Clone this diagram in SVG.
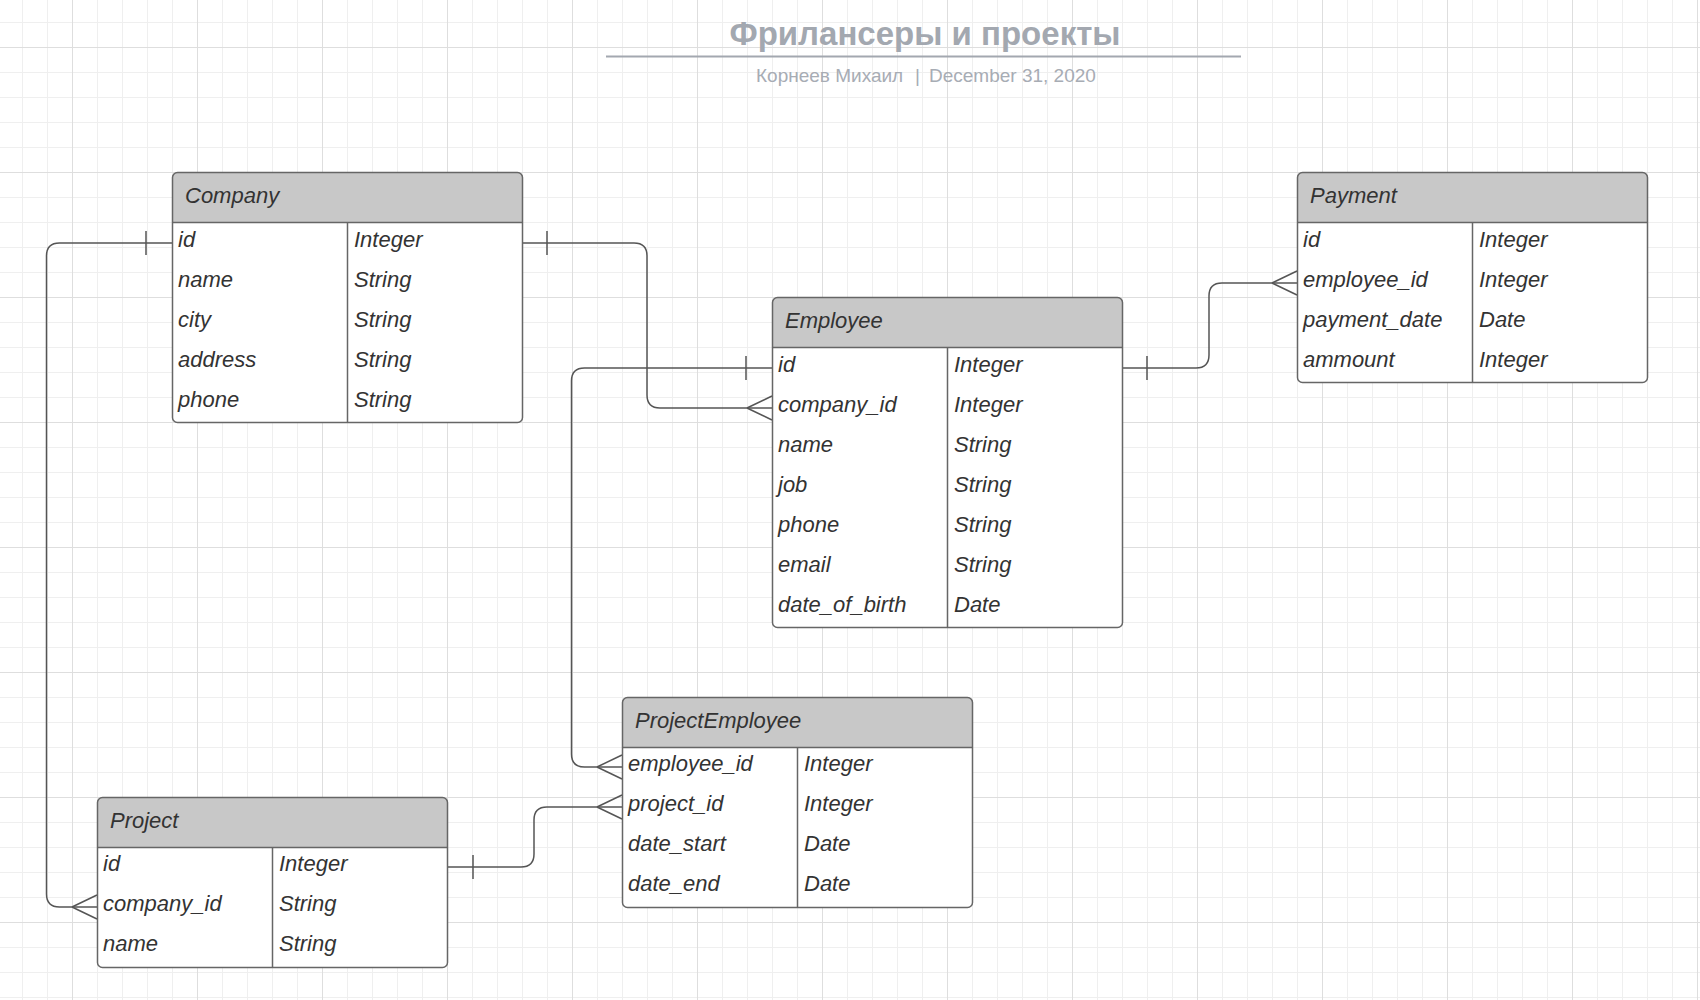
<svg xmlns="http://www.w3.org/2000/svg" width="1700" height="1000" viewBox="0 0 1700 1000">
<defs>
<pattern id="grid" x="72" y="47" width="125" height="125" patternUnits="userSpaceOnUse">
<rect x="0" y="0" width="125" height="125" fill="#ffffff"/>
<g fill="#efefef">
<rect x="25" y="0" width="1" height="125"/><rect x="50" y="0" width="1" height="125"/><rect x="75" y="0" width="1" height="125"/><rect x="100" y="0" width="1" height="125"/>
<rect x="0" y="25" width="125" height="1"/><rect x="0" y="50" width="125" height="1"/><rect x="0" y="75" width="125" height="1"/><rect x="0" y="100" width="125" height="1"/>
</g>
<g fill="#dedede">
<rect x="0" y="0" width="1" height="125"/><rect x="0" y="0" width="125" height="1"/>
</g>
</pattern>
<style>
.hdr{fill:#c8c8c8;}
.frame{fill:none;stroke:#666666;stroke-width:1.5;}
.sep{stroke:#666666;stroke-width:1.5;}
.t{font-family:"Liberation Sans",Arial,sans-serif;font-style:italic;font-size:22px;fill:#333333;}
.conn{fill:none;stroke:#555555;stroke-width:1.5;}
.title{font-family:"Liberation Sans",Arial,sans-serif;font-weight:bold;font-size:33px;fill:#a3a8b0;}
.sub{font-family:"Liberation Sans",Arial,sans-serif;font-size:19px;fill:#a7acb4;}
</style>
</defs>
<rect x="0" y="0" width="1700" height="1000" fill="url(#grid)"/>

<g id="title">
<text class="title" x="925" y="45" text-anchor="middle">Фрилансеры и проекты</text>
<line x1="606" y1="56.5" x2="1241" y2="56.5" stroke="#a3a8b0" stroke-width="2"/>
<text class="sub" x="756" y="82">Корнеев Михаил</text>
<text class="sub" x="915" y="82">|</text>
<text class="sub" x="929" y="82">December 31, 2020</text>
</g>

<g id="connectors">
<path class="conn" d="M172,243 H59.5 Q46.5,243 46.5,256 V894 Q46.5,907 59.5,907 H97"/>
<path class="conn" d="M146,231 V255 M72,907 L97,895 M72,907 L97,919"/>
<path class="conn" d="M522,243 H634 Q647,243 647,256 V395 Q647,408 660,408 H772"/>
<path class="conn" d="M547,231 V255 M747,408 L772,396 M747,408 L772,420"/>
<path class="conn" d="M772,368 H584.5 Q571.5,368 571.5,381 V754 Q571.5,767 584.5,767 H622"/>
<path class="conn" d="M746,356 V380 M597,767 L622,755 M597,767 L622,779"/>
<path class="conn" d="M1122,368 H1196 Q1209,368 1209,355 V296 Q1209,283 1222,283 H1297"/>
<path class="conn" d="M1147,356 V380 M1272,283 L1297,271 M1272,283 L1297,295"/>
<path class="conn" d="M447,867 H521 Q534,867 534,854 V820 Q534,807 547,807 H622"/>
<path class="conn" d="M473,855 V879 M597,807 L622,795 M597,807 L622,819"/>
</g>

<g id="Company">
<rect x="172.5" y="172.5" width="350" height="250" rx="5" fill="#ffffff"/>
<path class="hdr" d="M172.5,222.5 V177.5 Q172.5,172.5 177.5,172.5 H517.5 Q522.5,172.5 522.5,177.5 V222.5 Z"/>
<line class="sep" x1="172.5" y1="222.5" x2="522.5" y2="222.5"/>
<line class="sep" x1="347.5" y1="222.5" x2="347.5" y2="422.5"/>
<rect class="frame" x="172.5" y="172.5" width="350" height="250" rx="5"/>
<text class="t" x="185" y="203">Company</text>
<text class="t" x="178" y="247">id</text><text class="t" x="354" y="247">Integer</text>
<text class="t" x="178" y="287">name</text><text class="t" x="354" y="287">String</text>
<text class="t" x="178" y="327">city</text><text class="t" x="354" y="327">String</text>
<text class="t" x="178" y="367">address</text><text class="t" x="354" y="367">String</text>
<text class="t" x="178" y="407">phone</text><text class="t" x="354" y="407">String</text>
</g>

<g id="Payment">
<rect x="1297.5" y="172.5" width="350" height="210" rx="5" fill="#ffffff"/>
<path class="hdr" d="M1297.5,222.5 V177.5 Q1297.5,172.5 1302.5,172.5 H1642.5 Q1647.5,172.5 1647.5,177.5 V222.5 Z"/>
<line class="sep" x1="1297.5" y1="222.5" x2="1647.5" y2="222.5"/>
<line class="sep" x1="1472.5" y1="222.5" x2="1472.5" y2="382.5"/>
<rect class="frame" x="1297.5" y="172.5" width="350" height="210" rx="5"/>
<text class="t" x="1310" y="203">Payment</text>
<text class="t" x="1303" y="247">id</text><text class="t" x="1479" y="247">Integer</text>
<text class="t" x="1303" y="287">employee_id</text><text class="t" x="1479" y="287">Integer</text>
<text class="t" x="1303" y="327">payment_date</text><text class="t" x="1479" y="327">Date</text>
<text class="t" x="1303" y="367">ammount</text><text class="t" x="1479" y="367">Integer</text>
</g>

<g id="Employee">
<rect x="772.5" y="297.5" width="350" height="330" rx="5" fill="#ffffff"/>
<path class="hdr" d="M772.5,347.5 V302.5 Q772.5,297.5 777.5,297.5 H1117.5 Q1122.5,297.5 1122.5,302.5 V347.5 Z"/>
<line class="sep" x1="772.5" y1="347.5" x2="1122.5" y2="347.5"/>
<line class="sep" x1="947.5" y1="347.5" x2="947.5" y2="627.5"/>
<rect class="frame" x="772.5" y="297.5" width="350" height="330" rx="5"/>
<text class="t" x="785" y="328">Employee</text>
<text class="t" x="778" y="372">id</text><text class="t" x="954" y="372">Integer</text>
<text class="t" x="778" y="412">company_id</text><text class="t" x="954" y="412">Integer</text>
<text class="t" x="778" y="452">name</text><text class="t" x="954" y="452">String</text>
<text class="t" x="778" y="492">job</text><text class="t" x="954" y="492">String</text>
<text class="t" x="778" y="532">phone</text><text class="t" x="954" y="532">String</text>
<text class="t" x="778" y="572">email</text><text class="t" x="954" y="572">String</text>
<text class="t" x="778" y="612">date_of_birth</text><text class="t" x="954" y="612">Date</text>
</g>

<g id="ProjectEmployee">
<rect x="622.5" y="697.5" width="350" height="210" rx="5" fill="#ffffff"/>
<path class="hdr" d="M622.5,747.5 V702.5 Q622.5,697.5 627.5,697.5 H967.5 Q972.5,697.5 972.5,702.5 V747.5 Z"/>
<line class="sep" x1="622.5" y1="747.5" x2="972.5" y2="747.5"/>
<line class="sep" x1="797.5" y1="747.5" x2="797.5" y2="907.5"/>
<rect class="frame" x="622.5" y="697.5" width="350" height="210" rx="5"/>
<text class="t" x="635" y="728">ProjectEmployee</text>
<text class="t" x="628" y="771">employee_id</text><text class="t" x="804" y="771">Integer</text>
<text class="t" x="628" y="811">project_id</text><text class="t" x="804" y="811">Integer</text>
<text class="t" x="628" y="851">date_start</text><text class="t" x="804" y="851">Date</text>
<text class="t" x="628" y="891">date_end</text><text class="t" x="804" y="891">Date</text>
</g>

<g id="Project">
<rect x="97.5" y="797.5" width="350" height="170" rx="5" fill="#ffffff"/>
<path class="hdr" d="M97.5,847.5 V802.5 Q97.5,797.5 102.5,797.5 H442.5 Q447.5,797.5 447.5,802.5 V847.5 Z"/>
<line class="sep" x1="97.5" y1="847.5" x2="447.5" y2="847.5"/>
<line class="sep" x1="272.5" y1="847.5" x2="272.5" y2="967.5"/>
<rect class="frame" x="97.5" y="797.5" width="350" height="170" rx="5"/>
<text class="t" x="110" y="828">Project</text>
<text class="t" x="103" y="871">id</text><text class="t" x="279" y="871">Integer</text>
<text class="t" x="103" y="911">company_id</text><text class="t" x="279" y="911">String</text>
<text class="t" x="103" y="951">name</text><text class="t" x="279" y="951">String</text>
</g>
</svg>
